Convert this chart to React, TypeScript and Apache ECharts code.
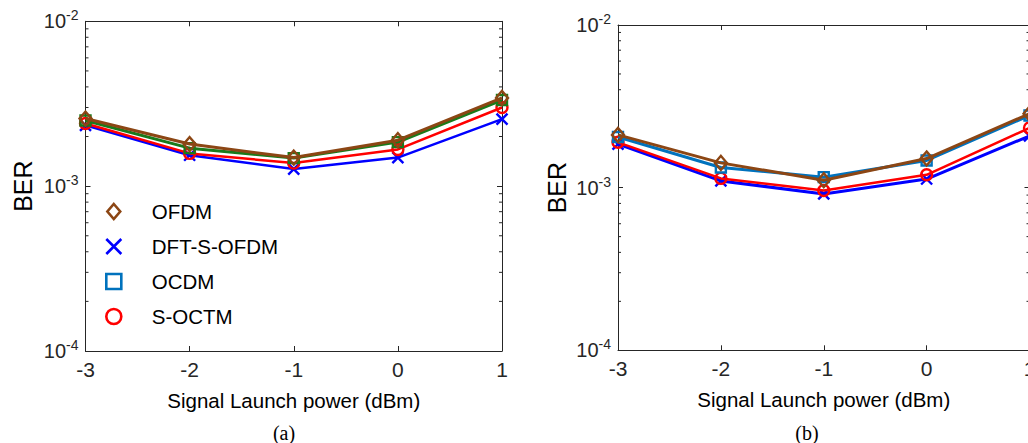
import React, { useEffect, useRef } from 'react';
import * as echarts from 'echarts';

// ---------- data ----------
const powers = [-3, -2, -1, 0, 1];
const seriesNames = ['OFDM', 'DFT-S-OFDM', 'OCDM', 'S-OCTM'];
// panel (a)
const berA_OFDM = [2.57e-3, 1.8e-3, 1.49e-3, 1.9e-3, 3.43e-3];
const berA_DFT = [2.34e-3, 1.54e-3, 1.27e-3, 1.49e-3, 2.55e-3];
const berA_OCDM = [2.5e-3, 1.7e-3, 1.48e-3, 1.85e-3, 3.33e-3];
const berA_SOCTM = [2.4e-3, 1.58e-3, 1.38e-3, 1.67e-3, 3.0e-3];
// panel (b)
const berB_OFDM = [2.11e-3, 1.42e-3, 1.11e-3, 1.51e-3, 2.85e-3];
const berB_DFT = [1.85e-3, 1.1e-3, 0.915e-3, 1.13e-3, 2.08e-3];
const berB_OCDM = [2.05e-3, 1.33e-3, 1.16e-3, 1.47e-3, 2.78e-3];
const berB_SOCTM = [1.9e-3, 1.14e-3, 0.96e-3, 1.2e-3, 2.33e-3];
const yMin = 1e-4;
const yMax = 1e-2;
const minorTicks = [2e-4, 3e-4, 4e-4, 5e-4, 6e-4, 7e-4, 8e-4, 9e-4, 2e-3, 3e-3, 4e-3, 5e-3, 6e-3, 7e-3, 8e-3, 9e-3];
const xName = 'Signal Launch power (dBm)';
const yName = 'BER';
const captions = ['(a)', '(b)'];

// ---------- styles ----------
const FONT = "'Liberation Sans', Arial, Helvetica, sans-serif";
const SERIF = "'Liberation Serif', 'Times New Roman', serif";
const AX = '#262626';
const C_BROWN = '#8C4614';
const C_BLUE = '#0000FF';
const C_GREEN = '#1A7A1A';
const C_OCDM = '#0072BD';
const C_RED = '#FF0000';

const SYM_DIAMOND = 'path://M6,0L12,7L6,14L0,7Z';
const SYM_CROSS = 'path://M0,0L10,10M10,0L0,10';
const SYM_SQUARE = 'path://M0,0L10,0L10,10L0,10Z';
const SYM_CIRCLE = 'path://M0,5A5,5,0,1,1,10,5A5,5,0,1,1,0,5Z';

const grids = [
  { left: 85.5, top: 21.3, width: 416.5, height: 329.7, outerBoundsMode: 'none', containLabel: false },
  { left: 618, top: 25, width: 411.5, height: 325.3, outerBoundsMode: 'none', containLabel: false },
];

const axisLine = { show: true, onZero: false, lineStyle: { color: AX, width: 1 } };
const tickIn = { show: true, inside: true, length: 5, lineStyle: { color: AX, width: 1 } };

function xAxes(gi: number) {
  return [
    {
      type: 'value', gridIndex: gi, position: 'bottom',
      min: powers[0], max: powers[powers.length - 1], interval: 1,
      axisLine, axisTick: tickIn, splitLine: { show: false },
      axisLabel: { fontSize: 21, color: AX, margin: 8, fontFamily: FONT },
      name: xName, nameLocation: 'middle', nameGap: 39,
      nameTextStyle: { fontSize: 20.5, color: '#000', fontFamily: FONT },
    },
    {
      type: 'value', gridIndex: gi, position: 'top',
      min: powers[0], max: powers[powers.length - 1], interval: 1,
      axisLine, axisTick: tickIn, splitLine: { show: false },
      axisLabel: { show: false },
    },
  ];
}

function yAxes(gi: number, gap: number) {
  return [
    {
      type: 'log', logBase: 10, gridIndex: gi, position: 'left', min: yMin, max: yMax,
      axisLine, axisTick: tickIn, splitLine: { show: false }, minorTick: { show: false },
      axisLabel: {
        margin: 7,
        formatter: (v: number) => `{b|10}{e|${Math.round(Math.log10(v))}}`,
        rich: {
          b: { fontSize: 20, color: AX, fontFamily: FONT },
          e: { fontSize: 14, color: AX, fontFamily: FONT, padding: [0, 0, 12, 0] },
        },
      },
      name: yName, nameLocation: 'middle', nameGap: gap, nameRotate: 90,
      nameTextStyle: { fontSize: 25, color: '#000', fontFamily: FONT },
    },
    {
      type: 'log', logBase: 10, gridIndex: gi, position: 'right', min: yMin, max: yMax,
      axisLine, axisTick: tickIn, splitLine: { show: false },
      axisLabel: { show: false },
    },
  ];
}

function lineSeries(gi: number, name: string, values: number[], color: string, symbol: string, size: any, width: number, z: number) {
  return {
    type: 'line', name, xAxisIndex: gi * 2, yAxisIndex: gi * 2, z,
    data: powers.map((p, i) => [p, values[i]]),
    symbol, symbolSize: size, showSymbol: true,
    lineStyle: { color, width },
    itemStyle: { color: 'rgba(0,0,0,0)', borderColor: color, borderWidth: 2.4 },
    emphasis: { disabled: true },
  };
}

function minorTickSeries(gi: number) {
  const x0 = powers[0];
  const x1 = powers[powers.length - 1];
  return {
    type: 'custom', xAxisIndex: gi * 2, yAxisIndex: gi * 2, silent: true, clip: false, z: 1,
    data: minorTicks.map((v) => [x0, v]),
    renderItem: (params: any, api: any) => {
      const v = api.value(1);
      const p = api.coord([x0, v]);
      const q = api.coord([x1, v]);
      return {
        type: 'group',
        children: [
          { type: 'line', shape: { x1: p[0], y1: p[1], x2: p[0] + 3, y2: p[1] }, style: { stroke: AX, lineWidth: 1 } },
          { type: 'line', shape: { x1: q[0], y1: q[1], x2: q[0] - 3, y2: q[1] }, style: { stroke: AX, lineWidth: 1 } },
        ],
      };
    },
  };
}

const legendIcon = (icon: string, color: string) => ({
  icon,
  itemStyle: { color: 'rgba(0,0,0,0)', borderColor: color, borderWidth: 2.6 },
});

const option: any = {
  animation: false,
  backgroundColor: '#ffffff',
  grid: grids,
  xAxis: [...xAxes(0), ...xAxes(1)],
  yAxis: [...yAxes(0, 50), ...yAxes(1, 49)],
  legend: {
    orient: 'vertical', left: 100, top: 196,
    itemWidth: 66, itemHeight: 15, itemGap: 14,
    selectedMode: false,
    textStyle: { fontSize: 20.5, color: '#000', fontFamily: FONT, lineHeight: 21 },
    data: [
      { name: seriesNames[0], ...legendIcon(SYM_DIAMOND, C_BROWN) },
      { name: seriesNames[1], ...legendIcon(SYM_CROSS, C_BLUE) },
      { name: seriesNames[2], ...legendIcon(SYM_SQUARE, C_OCDM) },
      { name: seriesNames[3], ...legendIcon(SYM_CIRCLE, C_RED) },
    ],
  },
  graphic: [
    { type: 'text', x: 284, y: 433, style: { text: captions[0], fontSize: 20, fontFamily: SERIF, fill: '#000', textAlign: 'center', textVerticalAlign: 'middle' } },
    { type: 'text', x: 807, y: 433, style: { text: captions[1], fontSize: 20, fontFamily: SERIF, fill: '#000', textAlign: 'center', textVerticalAlign: 'middle' } },
  ],
  series: [
    minorTickSeries(0),
    minorTickSeries(1),
    lineSeries(0, seriesNames[0], berA_OFDM, C_BROWN, SYM_DIAMOND, [12, 14], 3, 5),
    lineSeries(0, seriesNames[1], berA_DFT, C_BLUE, SYM_CROSS, 11, 2.5, 2),
    lineSeries(0, seriesNames[2], berA_OCDM, C_GREEN, SYM_SQUARE, 10, 3, 4),
    lineSeries(0, seriesNames[3], berA_SOCTM, C_RED, SYM_CIRCLE, 11, 2.5, 3),
    lineSeries(1, seriesNames[0], berB_OFDM, C_BROWN, SYM_DIAMOND, [12, 14], 3, 5),
    lineSeries(1, seriesNames[1], berB_DFT, C_BLUE, SYM_CROSS, 11, 3, 2),
    lineSeries(1, seriesNames[2], berB_OCDM, C_OCDM, SYM_SQUARE, 10, 3, 4),
    lineSeries(1, seriesNames[3], berB_SOCTM, C_RED, SYM_CIRCLE, 11, 2.5, 3),
  ],
};

export default function App() {
  const ref = useRef<HTMLDivElement>(null);
  useEffect(() => {
    const chart = echarts.init(ref.current as HTMLDivElement, null, { renderer: 'svg' });
    chart.setOption(option);
    return () => chart.dispose();
  }, []);
  return (
    <div
      ref={ref}
      style={{ position: 'fixed', left: 0, top: 0, width: 1028, height: 443, background: '#ffffff' }}
    />
  );
}
